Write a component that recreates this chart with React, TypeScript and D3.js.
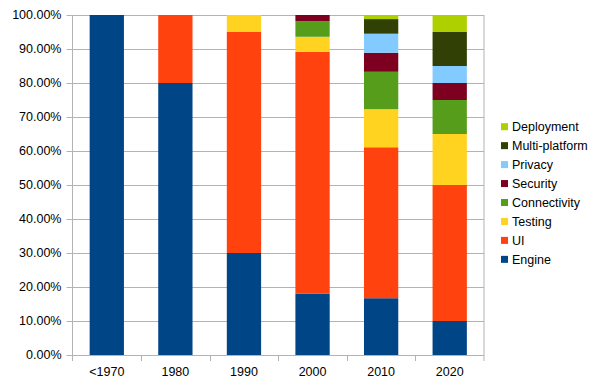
import { useEffect, useRef } from "react";
import * as d3 from "d3";

const WIDTH = 605;
const HEIGHT = 387;
const MARGIN = { top: 15, right: 121, bottom: 32, left: 72.5 };
const FONT = "'Liberation Sans', Arial, sans-serif";

const decades = ["<1970", "1980", "1990", "2000", "2010", "2020"];
const seriesNames = [
  "Engine",
  "UI",
  "Testing",
  "Connectivity",
  "Security",
  "Privacy",
  "Multi-platform",
  "Deployment",
];
const seriesColors = [
  "#004586",
  "#ff420e",
  "#ffd320",
  "#579d1c",
  "#7e0021",
  "#83caff",
  "#314004",
  "#aecf00",
];

// share per decade, in percent, one array per series
const engine = [100, 80, 30, 18, 16.7, 10];
const ui = [0, 20, 65, 71.2, 44.4, 40];
const testing = [0, 0, 5, 4.4, 11.2, 15];
const connectivity = [0, 0, 0, 4.6, 11, 10];
const security = [0, 0, 0, 1.8, 5.6, 5];
const privacy = [0, 0, 0, 0, 5.6, 5];
const multiPlatform = [0, 0, 0, 0, 4.3, 10];
const deployment = [0, 0, 0, 0, 1.2, 5];

const yTicks = [0, 10, 20, 30, 40, 50, 60, 70, 80, 90, 100];

type Row = { decade: string } & Record<string, number | string>;

export default function App() {
  const svgRef = useRef<SVGSVGElement>(null);

  useEffect(() => {
    const svgElement = svgRef.current;
    if (!svgElement) return;

    const allSeries = [
      engine,
      ui,
      testing,
      connectivity,
      security,
      privacy,
      multiPlatform,
      deployment,
    ];
    const rows: Row[] = decades.map((decade, i) => {
      const row: Row = { decade };
      seriesNames.forEach((name, s) => {
        row[name] = allSeries[s][i];
      });
      return row;
    });

    const x = d3
      .scaleBand()
      .domain(decades)
      .range([MARGIN.left, WIDTH - MARGIN.right])
      .paddingInner(0.5)
      .paddingOuter(0.25);
    const y = d3
      .scaleLinear()
      .domain([0, 100])
      .range([HEIGHT - MARGIN.bottom, MARGIN.top]);

    const stacked = d3
      .stack<Row>()
      .keys(seriesNames)
      .value((d, key) => d[key] as number)(rows);

    const svg = d3.select(svgElement);
    svg.selectAll("*").remove();

    const plotLeft = MARGIN.left;
    const plotRight = WIDTH - MARGIN.right;
    const plotTop = MARGIN.top;
    const plotBottom = HEIGHT - MARGIN.bottom;

    // gridlines
    svg
      .append("g")
      .selectAll("line")
      .data(yTicks)
      .join("line")
      .attr("x1", plotLeft - 6)
      .attr("x2", plotRight)
      .attr("y1", (d) => Math.round(y(d)) + 0.5)
      .attr("y2", (d) => Math.round(y(d)) + 0.5)
      .attr("stroke", "#b3b3b3");

    // plot frame sides
    svg
      .append("line")
      .attr("x1", plotLeft)
      .attr("x2", plotLeft)
      .attr("y1", plotTop)
      .attr("y2", plotBottom + 6)
      .attr("stroke", "#b3b3b3");
    svg
      .append("line")
      .attr("x1", plotRight)
      .attr("x2", plotRight)
      .attr("y1", plotTop)
      .attr("y2", plotBottom + 6)
      .attr("stroke", "#b3b3b3");

    // category separators on x axis
    const step = x.step();
    svg
      .append("g")
      .selectAll("line")
      .data(decades.slice(1))
      .join("line")
      .attr("x1", (d) => Math.round((x(d) ?? 0) - step * 0.25) + 0.5)
      .attr("x2", (d) => Math.round((x(d) ?? 0) - step * 0.25) + 0.5)
      .attr("y1", plotBottom)
      .attr("y2", plotBottom + 6)
      .attr("stroke", "#b3b3b3");

    // bars
    svg
      .append("g")
      .selectAll("g")
      .data(stacked)
      .join("g")
      .attr("fill", (_, i) => seriesColors[i])
      .selectAll("rect")
      .data((s) => s.filter((d) => d[1] - d[0] > 0))
      .join("rect")
      .attr("x", (d) => x(d.data.decade) ?? 0)
      .attr("width", x.bandwidth())
      .attr("y", (d) => y(d[1]))
      .attr("height", (d) => y(d[0]) - y(d[1]));

    // y labels
    svg
      .append("g")
      .selectAll("text")
      .data(yTicks)
      .join("text")
      .attr("x", plotLeft - 11)
      .attr("y", (d) => y(d))
      .attr("dy", "0.35em")
      .attr("text-anchor", "end")
      .attr("font-family", FONT)
      .attr("font-size", 12.5)
      .attr("fill", "#000")
      .text((d) => `${d.toFixed(2)}%`);

    // x labels
    svg
      .append("g")
      .selectAll("text")
      .data(decades)
      .join("text")
      .attr("x", (d) => (x(d) ?? 0) + x.bandwidth() / 2)
      .attr("y", plotBottom + 17)
      .attr("dy", "0.35em")
      .attr("text-anchor", "middle")
      .attr("font-family", FONT)
      .attr("font-size", 12.5)
      .attr("fill", "#000")
      .text((d) => d);

    // legend, top entry is the last series
    const legendItems = seriesNames
      .map((name, i) => ({ name, color: seriesColors[i] }))
      .reverse();
    const legend = svg
      .append("g")
      .selectAll("g")
      .data(legendItems)
      .join("g")
      .attr("transform", (_, i) => `translate(501,${126.7 + i * 18.95})`);
    legend
      .append("rect")
      .attr("x", 0)
      .attr("y", -3.5)
      .attr("width", 7)
      .attr("height", 7)
      .attr("fill", (d) => d.color);
    legend
      .append("text")
      .attr("x", 11)
      .attr("dy", "0.35em")
      .attr("font-family", FONT)
      .attr("font-size", 12.5)
      .attr("fill", "#000")
      .text((d) => d.name);
  }, []);

  return (
    <svg
      ref={svgRef}
      width={WIDTH}
      height={HEIGHT}
      style={{ position: "absolute", left: 0, top: 0, background: "#fff" }}
    />
  );
}
